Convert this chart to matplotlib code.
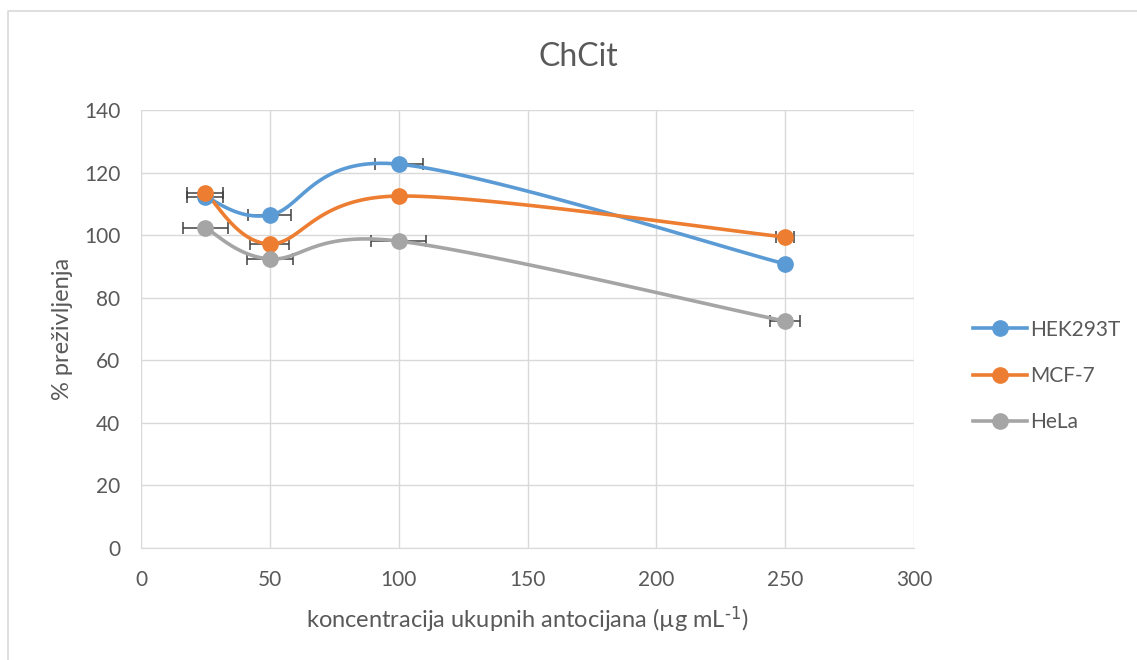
import numpy as np
import matplotlib
matplotlib.use("Agg")
import matplotlib.pyplot as plt
from matplotlib.lines import Line2D

plt.rcParams['font.family'] = ['Lato', 'DejaVu Sans']
plt.rcParams['mathtext.default'] = 'regular'

conc = [25, 50, 100, 250]
series = ['HEK293T', 'MCF-7', 'HeLa']
hek = [112.2, 106.4, 122.7, 90.8]
mcf = [113.5, 97.2, 112.5, 99.4]
hela = [102.3, 92.4, 98.1, 72.5]
hek_err = [7.0, 8.3, 9.3, 1.5]
mcf_err = [7.0, 7.6, 1.5, 3.5]
hela_err = [8.6, 8.9, 10.7, 5.8]
colors = ['#5b9bd5', '#ed7d31', '#a5a5a5']

xlim = (0, 300)
ylim = (0, 140)
W, H = 1137, 660


def smooth(x, y, sx, sy, n=40):
    # Excel-like smoothed line: cubic Bezier with Catmull-Rom controls (pixel space)
    px = np.asarray(x, float) * sx
    py = np.asarray(y, float) * sy
    pts = np.column_stack([px, py])
    out = []
    m = len(pts)
    for i in range(m - 1):
        p0 = pts[i - 1] if i > 0 else pts[i]
        p1 = pts[i]
        p2 = pts[i + 1]
        p3 = pts[i + 2] if i + 2 < m else pts[i + 1]
        c1 = p1 + (p2 - p0) / 6.0
        c2 = p2 - (p3 - p1) / 6.0
        t = np.linspace(0, 1, n)[:, None]
        seg = ((1 - t) ** 3) * p1 + 3 * ((1 - t) ** 2) * t * c1 + 3 * (1 - t) * t ** 2 * c2 + t ** 3 * p2
        out.append(seg if i == 0 else seg[1:])
    out = np.vstack(out)
    return out[:, 0] / sx, out[:, 1] / sy


fig = plt.figure(figsize=(W / 100, H / 100), dpi=100)
ax = fig.add_axes([141 / W, 1 - 548 / H, (914 - 141) / W, (548 - 110) / H])

# chart border (only left and top edges visible in the crop)
fig.add_artist(Line2D([7.5 / W, 7.5 / W, 1], [0, 1 - 10.5 / H, 1 - 10.5 / H],
                      transform=fig.transFigure, color='#d9d9d9', linewidth=1.2))

sx = (914 - 141) / (xlim[1] - xlim[0])
sy = (548 - 110) / (ylim[1] - ylim[0])

handles = []
for name, vals, err, c in zip(series, [hek, mcf, hela], [hek_err, mcf_err, hela_err], colors):
    xs, ys = smooth(conc, vals, sx, sy)
    ax.plot(xs, ys, color=c, linewidth=2.6, zorder=3, solid_capstyle='round')
    ax.errorbar(conc, vals, xerr=err, fmt='none', ecolor='#404040', elinewidth=1.1,
                capsize=4, capthick=1.1, zorder=2)
    ax.plot(conc, vals, 'o', color=c, markersize=11, zorder=4)
    handles.append(Line2D([0], [0], color=c, linewidth=2.6, marker='o', markersize=11))

ax.set_xlim(*xlim)
ax.set_ylim(*ylim)
ax.set_xticks(np.arange(0, 301, 50))
ax.set_yticks(np.arange(0, 141, 20))
ax.grid(True, color='#d9d9d9', linewidth=1)
ax.set_axisbelow(True)
for s in ['top', 'right', 'left']:
    ax.spines[s].set_visible(False)
ax.spines['bottom'].set_color('#d9d9d9')
ax.tick_params(length=0, labelsize=15, colors='#595959')
ax.tick_params(axis='x', pad=16)
ax.tick_params(axis='y', pad=15)

fig.text(578 / W, 1 - 57 / H, 'ChCit', fontsize=23, color='#595959', ha='center', va='center')
ax.set_xlabel(r'koncentracija ukupnih antocijana (µg mL$^{\text{-1}}$)', fontsize=17, color='#595959', labelpad=10)
ax.set_ylabel('% preživljenja', fontsize=17, color='#595959', labelpad=8)

fig.legend(handles, series, loc='upper left', bbox_to_anchor=(954 / W, 1 - 301 / H),
           frameon=False, fontsize=15, labelcolor='#595959', handlelength=2.6,
           handletextpad=0.15, labelspacing=1.25)

fig.savefig('out.png', dpi=100)
